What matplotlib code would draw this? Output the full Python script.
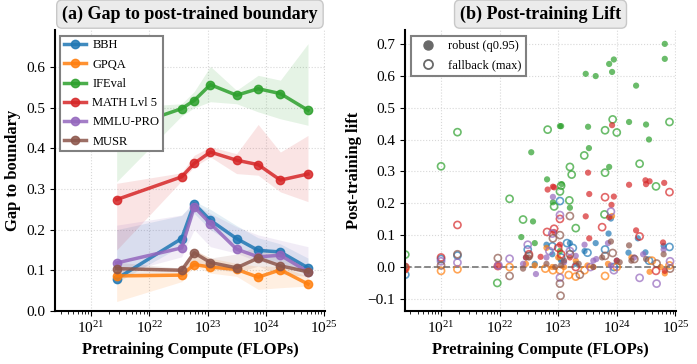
import numpy as np
import matplotlib
matplotlib.use("Agg")
import matplotlib.pyplot as plt
from matplotlib.lines import Line2D

plt.rcParams['font.family'] = 'serif'
plt.rcParams['font.serif'] = ['Liberation Serif', 'DejaVu Serif']
plt.rcParams['mathtext.fontset'] = 'dejavusans'

# ---------------- Panel (a) data ----------------
benchmarks = ["BBH", "GPQA", "IFEval", "MATH Lvl 5", "MMLU-PRO", "MUSR"]
colors = ["#1f77b4", "#ff7f0e", "#2ca02c", "#d62728", "#9467bd", "#8c564b"]

bin_compute = [2.76e21, 3.6e22, 5.9e22, 1.12e23, 3.15e23, 7.4e23, 1.78e24, 5.3e24]

gap_bbh   = [0.079, 0.178, 0.264, 0.223, 0.178, 0.149, 0.145, 0.106]
gap_gpqa  = [0.086, 0.088, 0.114, 0.108, 0.102, 0.083, 0.101, 0.066]
gap_ifev  = [0.443, 0.498, 0.518, 0.557, 0.531, 0.547, 0.535, 0.494]
gap_math  = [0.274, 0.330, 0.363, 0.391, 0.371, 0.360, 0.322, 0.337]
gap_mmlu  = [0.118, 0.155, 0.256, 0.215, 0.152, 0.133, 0.137, 0.096]
gap_musr  = [0.104, 0.100, 0.143, 0.119, 0.106, 0.130, 0.111, 0.096]

lo_bbh  = [0.070, 0.160, 0.240, 0.200, 0.160, 0.130, 0.120, 0.090]
hi_bbh  = [0.200, 0.235, 0.270, 0.250, 0.210, 0.180, 0.165, 0.130]
lo_gpqa = [0.023, 0.072, 0.110, 0.093, 0.085, 0.053, 0.057, 0.061]
hi_gpqa = [0.093, 0.095, 0.150, 0.130, 0.117, 0.110, 0.110, 0.085]
lo_ifev = [0.318, 0.480, 0.500, 0.515, 0.510, 0.490, 0.473, 0.457]
hi_ifev = [0.500, 0.510, 0.540, 0.602, 0.543, 0.580, 0.568, 0.658]
lo_math = [0.150, 0.320, 0.355, 0.379, 0.338, 0.334, 0.293, 0.269]
hi_math = [0.314, 0.340, 0.383, 0.404, 0.387, 0.459, 0.391, 0.432]
lo_mmlu = [0.090, 0.133, 0.200, 0.158, 0.142, 0.121, 0.117, 0.093]
hi_mmlu = [0.211, 0.236, 0.265, 0.240, 0.207, 0.187, 0.174, 0.158]
lo_musr = [0.090, 0.095, 0.120, 0.105, 0.095, 0.110, 0.090, 0.085]
hi_musr = [0.120, 0.105, 0.150, 0.130, 0.140, 0.160, 0.140, 0.105]

gaps = [gap_bbh, gap_gpqa, gap_ifev, gap_math, gap_mmlu, gap_musr]
los = [lo_bbh, lo_gpqa, lo_ifev, lo_math, lo_mmlu, lo_musr]
his = [hi_bbh, hi_gpqa, hi_ifev, hi_math, hi_mmlu, hi_musr]

# ---------------- Panel (b) data (log10 compute, lift) ----------------
bbh_rob_logc = [22.45, 22.8, 22.9, 23.05, 23.2, 23.45, 23.64, 23.86, 23.9, 24.2, 24.36, 24.49, 24.8, 23.3, 24.0, 22.6]
bbh_rob_lift = [0.03, 0.07, 0.04, 0.02, 0.075, 0.05, 0.075, 0.105, 0.152, 0.045, 0.09, 0.046, 0.066, 0.01, 0.02, 0.01]
bbh_fb_logc = [20.39, 21.0, 21.28, 22.48, 23.03, 23.05, 23.25, 23.5, 23.8, 23.95, 24.9, 24.55, 22.9, 23.15]
bbh_fb_lift = [-0.024, 0.025, 0.036, 0.055, 0.207, 0.03, 0.06, 0.045, 0.055, 0.0, 0.063, 0.02, 0.065, 0.075]

gpqa_rob_logc = [22.45, 22.6, 22.8, 23.0, 23.1, 23.3, 23.5, 23.85, 23.92, 24.25, 24.56, 24.82, 24.75, 23.6, 22.9]
gpqa_rob_lift = [0.01, 0.005, 0.06, 0.03, 0.0, 0.02, 0.005, 0.01, 0.16, 0.03, -0.015, -0.02, 0.0, 0.0, 0.0]
gpqa_fb_logc = [20.39, 21.0, 21.28, 22.17, 22.91, 23.03, 23.3, 23.45, 23.8, 24.0, 24.6, 24.9, 23.18, 22.78]
gpqa_fb_lift = [-0.005, -0.012, -0.007, 0.0, -0.01, -0.01, -0.03, -0.01, -0.028, 0.0, 0.02, 0.005, -0.025, -0.005]

ifev_rob_logc = [22.37, 22.57, 22.54, 22.81, 22.91, 23.06, 23.03, 23.05, 23.2, 23.47, 23.51, 23.525, 23.64, 23.87, 23.87,
                 23.92, 23.95, 24.21, 24.33, 24.5, 24.55, 24.82, 24.82, 23.03, 22.6]
ifev_rob_lift = [0.094, 0.143, 0.36, 0.275, 0.203, 0.26, 0.442, 0.442, 0.186, 0.606, 0.44, 0.373, 0.599, 0.637, 0.314,
                 0.612, 0.651, 0.455, 0.569, 0.447, 0.40, 0.70, 0.653, 0.05, 0.075]
ifev_fb_logc = [20.39, 21.0, 21.28, 21.96, 22.17, 22.40, 22.82, 22.93, 23.03, 23.19, 23.2, 23.23, 23.30, 23.445, 23.79,
                23.8, 23.80, 23.93, 24.0, 24.39, 24.67, 24.9, 23.05]
ifev_fb_lift = [0.039, 0.316, 0.423, -0.05, 0.214, 0.149, 0.431, 0.19, 0.237, 0.209, 0.314, 0.29, 0.122, 0.35, 0.165,
                0.296, 0.429, 0.463, 0.422, 0.324, 0.253, 0.455, 0.255]

math_rob_logc = [20.39, 21.97, 22.45, 22.7, 22.82, 22.91, 22.93, 22.93, 23.03, 23.47, 23.51, 23.53, 23.53, 23.87, 23.91,
                 23.92, 23.95, 24.21, 24.33, 24.49, 24.5, 24.56, 24.79, 24.81, 24.82, 23.2, 24.0]
math_rob_lift = [-0.01, 0.003, 0.03, 0.032, 0.243, 0.252, 0.25, 0.11, 0.07, 0.159, 0.296, 0.229, 0.09, 0.156, 0.195,
                 0.445, 0.221, 0.258, 0.115, 0.272, 0.26, 0.269, 0.077, 0.264, -0.012, 0.03, 0.02]
math_fb_logc = [20.39, 21.0, 21.28, 21.97, 22.5, 22.81, 22.93, 23.03, 23.05, 23.3, 23.80, 23.75, 24.39, 24.67, 24.90, 23.0]
math_fb_lift = [0.0, 0.03, 0.132, 0.003, 0.04, 0.11, 0.12, 0.151, 0.04, 0.0, 0.219, 0.125, 0.096, -0.012, 0.235, 0.06]

mmlu_rob_logc = [22.62, 22.91, 23.45, 22.4, 22.8, 23.1, 23.3, 23.6, 23.9, 24.3, 24.8, 23.65, 24.45, 23.85]
mmlu_rob_lift = [-0.022, 0.22, 0.07, 0.01, 0.03, 0.015, 0.035, 0.02, 0.005, 0.03, 0.055, 0.025, 0.04, 0.075]
mmlu_fb_logc = [21.0, 21.28, 21.98, 22.17, 22.48, 22.9, 23.03, 23.03, 23.2, 23.9, 23.55, 24.39, 24.68, 24.91, 23.95, 22.85]
mmlu_fb_lift = [0.018, 0.014, 0.005, 0.026, 0.07, 0.105, 0.163, -0.033, 0.05, 0.174, 0.0, -0.034, -0.052, 0.018, -0.01, 0.05]

musr_rob_logc = [20.39, 22.4, 22.5, 22.8, 22.95, 23.1, 23.35, 23.6, 23.9, 24.21, 24.25, 24.5, 24.8, 23.05, 23.75, 24.05]
musr_rob_lift = [0.003, -0.005, 0.03, 0.01, 0.0, 0.02, 0.01, 0.0, 0.08, 0.068, 0.02, 0.025, 0.04, 0.005, 0.03, 0.015]
musr_fb_logc = [21.0, 21.28, 21.97, 22.17, 22.5, 22.91, 23.03, 23.04, 23.03, 23.2, 23.37, 23.93, 24.68, 24.91, 23.2, 23.8, 24.3]
musr_fb_lift = [0.005, 0.04, 0.028, -0.028, 0.035, 0.09, -0.052, -0.09, 0.1, 0.16, -0.024, 0.044, 0.011, -0.005, 0.04, 0.035, 0.025]

rob = [(bbh_rob_logc, bbh_rob_lift), (gpqa_rob_logc, gpqa_rob_lift), (ifev_rob_logc, ifev_rob_lift),
       (math_rob_logc, math_rob_lift), (mmlu_rob_logc, mmlu_rob_lift), (musr_rob_logc, musr_rob_lift)]
fb = [(bbh_fb_logc, bbh_fb_lift), (gpqa_fb_logc, gpqa_fb_lift), (ifev_fb_logc, ifev_fb_lift),
      (math_fb_logc, math_fb_lift), (mmlu_fb_logc, mmlu_fb_lift), (musr_fb_logc, musr_fb_lift)]

# ---------------- Figure ----------------
fig = plt.figure(figsize=(6.97, 3.64), dpi=100)
ax1 = fig.add_axes([0.079, 0.146, 0.387, 0.772])
ax2 = fig.add_axes([0.581, 0.146, 0.389, 0.772])

title_box = dict(boxstyle="round,pad=0.3", facecolor="#ebebeb", edgecolor="#c8c8c8", linewidth=1.0)

for ax in (ax1, ax2):
    ax.set_xscale('log')
    ax.set_xlim(2.42e20, 1.03e25)
    for s in ('top', 'right'):
        ax.spines[s].set_visible(False)
    for s in ('left', 'bottom'):
        ax.spines[s].set_linewidth(1.5)
    ax.grid(True, which='major', linestyle=':', color='#d8d8d8', linewidth=0.8)
    ax.set_axisbelow(True)
    ax.tick_params(axis='both', which='major', labelsize=11)
    ax.set_xlabel("Pretraining Compute (FLOPs)", fontsize=12, fontweight='bold')

# Panel (a)
for name, c, g, lo, hi in zip(benchmarks, colors, gaps, los, his):
    ax1.fill_between(bin_compute, lo, hi, color=c, alpha=0.12, linewidth=0)
    ax1.plot(bin_compute, g, '-o', color=c, lw=2.5, ms=6, alpha=0.85, label=name)
ax1.set_ylim(0, 0.692)
ax1.set_yticks([0.0, 0.1, 0.2, 0.3, 0.4, 0.5, 0.6])
ax1.set_ylabel("Gap to boundary", fontsize=12, fontweight='bold')
ax1.set_title("(a) Gap to post-trained boundary", fontsize=13, fontweight='bold', bbox=title_box, pad=8)
leg1 = ax1.legend(loc='upper left', fontsize=9, fancybox=False, edgecolor='gray', framealpha=1,
                  handlelength=1.8, handletextpad=0.5, borderpad=0.3, labelspacing=0.58,
                  borderaxespad=0, bbox_to_anchor=(0.018, 0.979))
leg1.get_frame().set_linewidth(1.5)

# Panel (b)
ax2.axhline(0, color='gray', linestyle='--', linewidth=1.3, zorder=1)
for c, (xr, yr), (xf, yf) in zip(colors, rob, fb):
    ax2.scatter(10 ** np.array(xr), yr, s=20, color=c, alpha=0.7, edgecolors='none', zorder=2)
    ax2.scatter(10 ** np.array(xf), yf, s=26, facecolors='none', edgecolors=c, linewidths=1.2, alpha=0.7, zorder=2)
ax2.set_ylim(-0.1375, 0.744)
ax2.set_yticks([-0.1, 0.0, 0.1, 0.2, 0.3, 0.4, 0.5, 0.6, 0.7])
ax2.set_ylabel("Post-training lift", fontsize=12, fontweight='bold')
ax2.set_title("(b) Post-training Lift", fontsize=13, fontweight='bold', bbox=title_box, pad=8)
handles = [Line2D([], [], marker='o', linestyle='none', color='dimgray', markersize=6.5),
           Line2D([], [], marker='o', linestyle='none', markerfacecolor='none', markeredgecolor='dimgray',
                  markeredgewidth=1.3, markersize=6.5)]
leg2 = ax2.legend(handles, ["robust (q0.95)", "fallback (max)"], loc='upper left', fontsize=9,
                  fancybox=False, edgecolor='gray', framealpha=1, borderpad=0.35, labelspacing=0.58,
                  handletextpad=0.6, borderaxespad=0, bbox_to_anchor=(0.022, 0.979))
leg2.get_frame().set_linewidth(1.5)

fig.savefig("out.png", dpi=100)
